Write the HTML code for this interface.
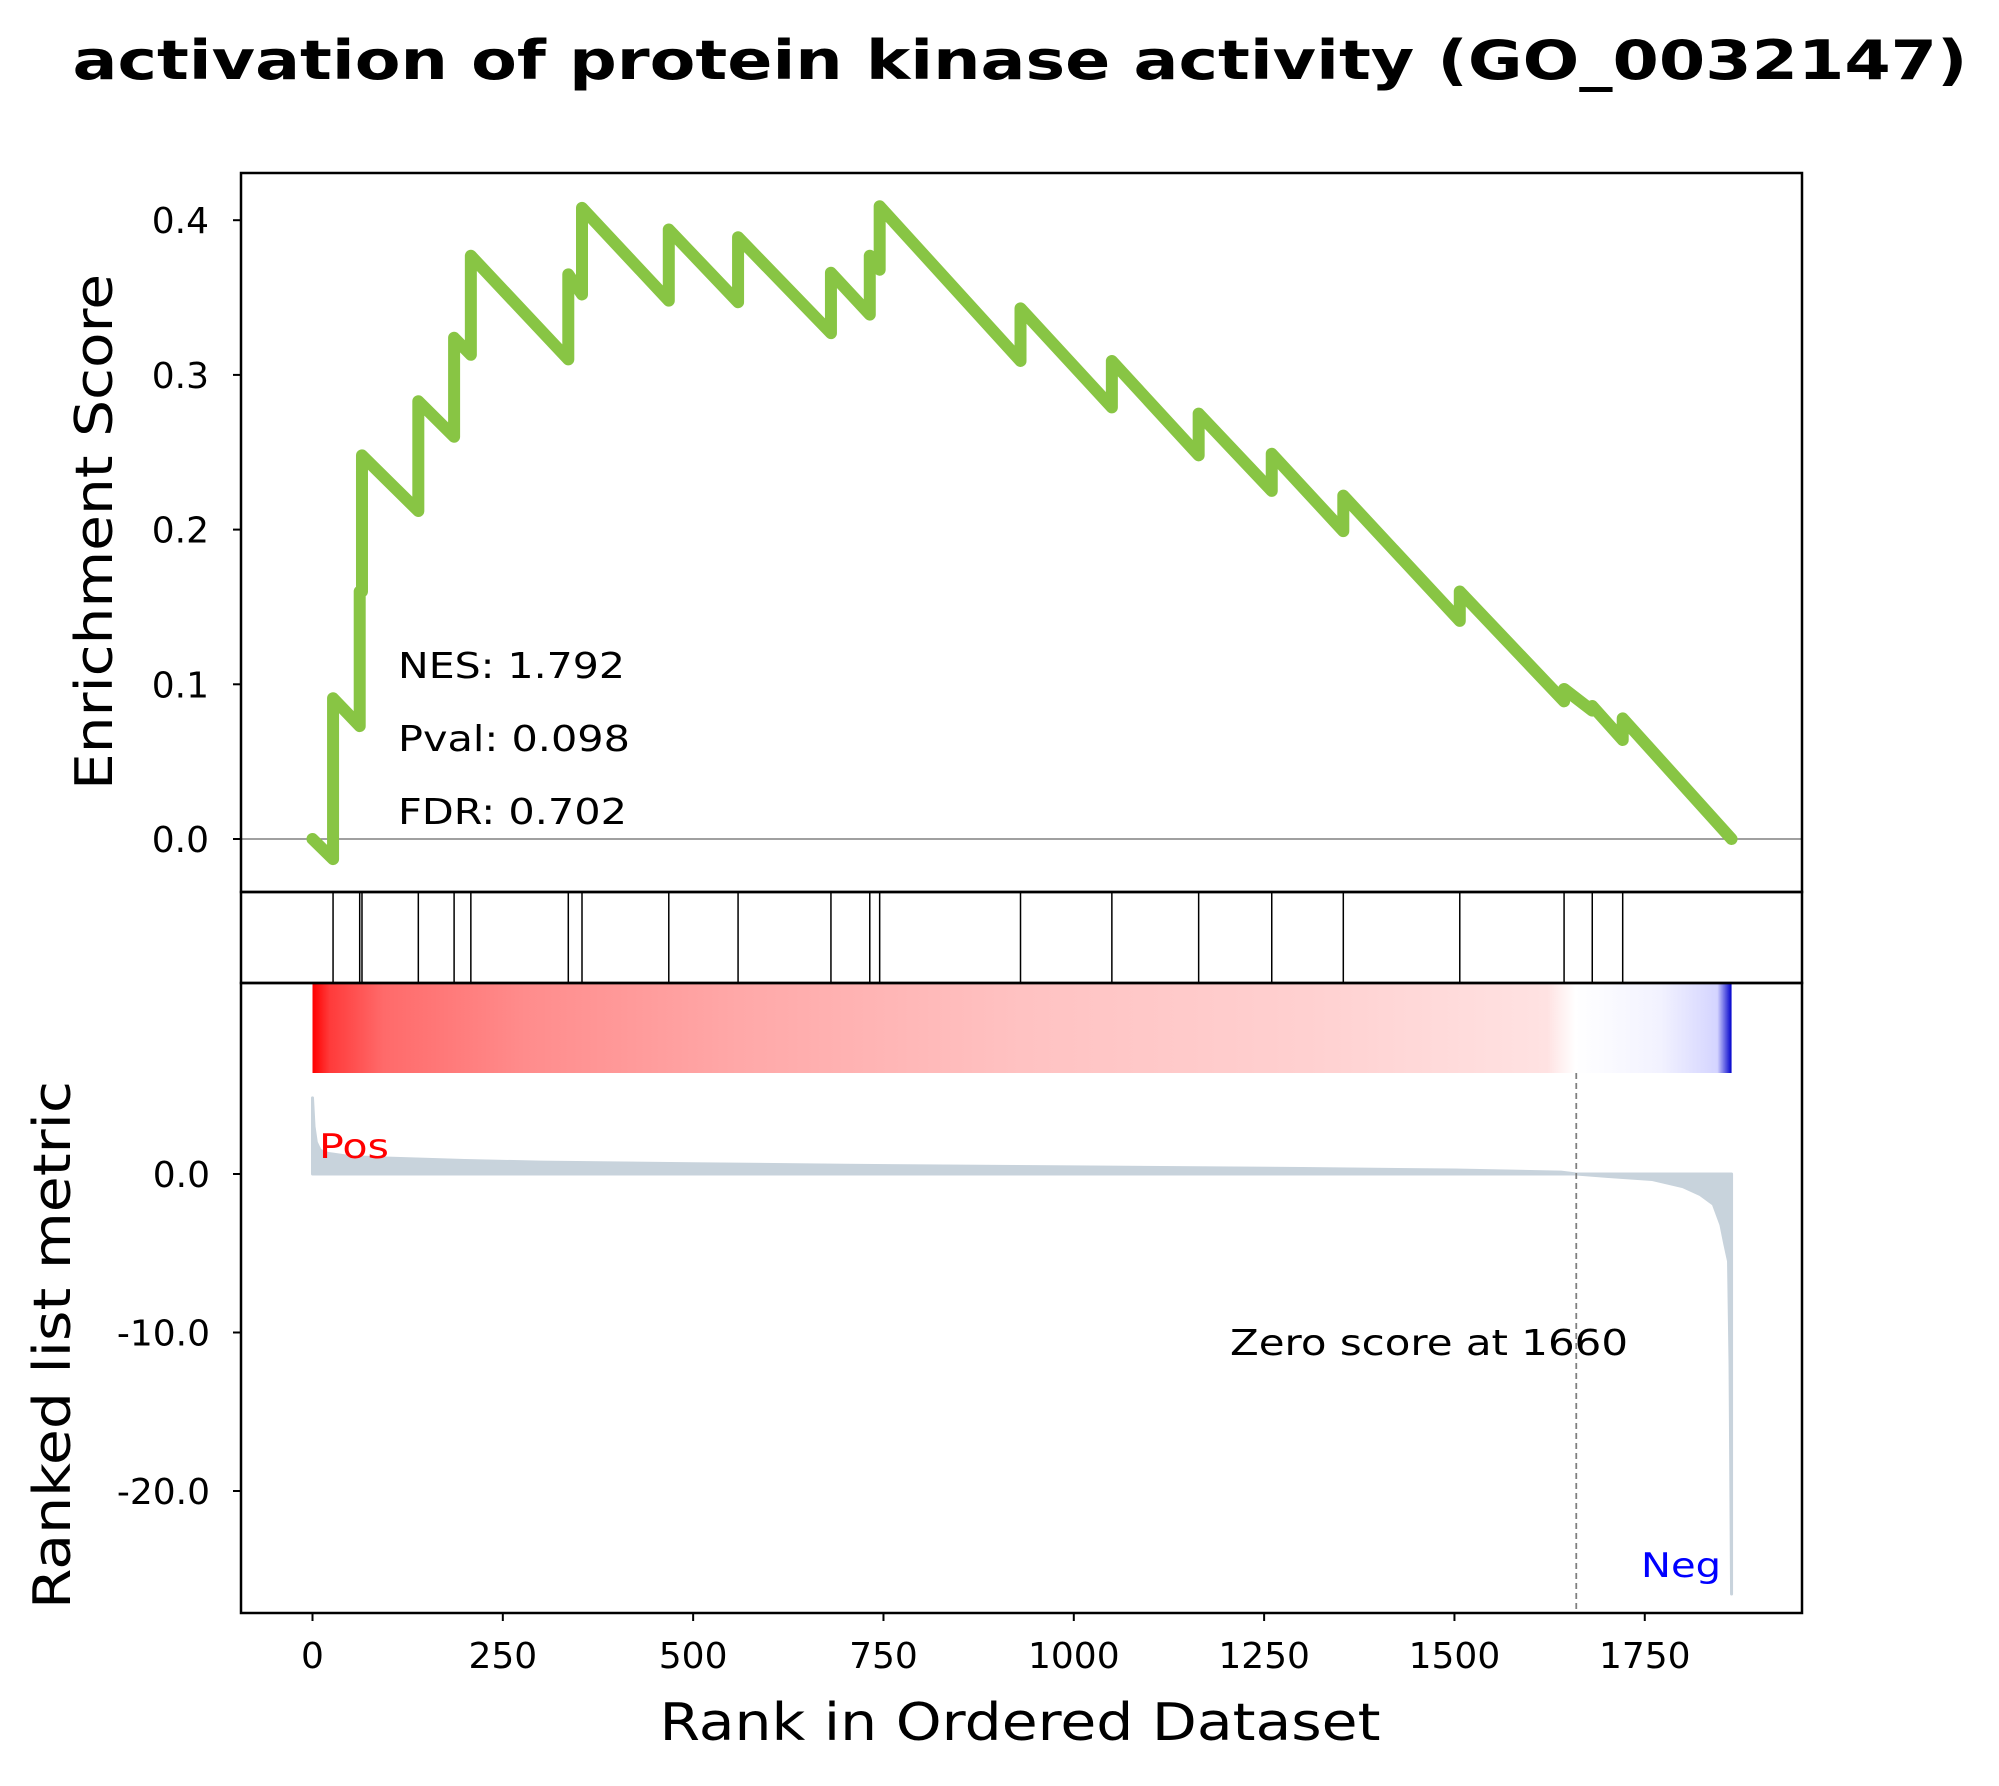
<!DOCTYPE html>
<html><head><meta charset="utf-8"><style>
html,body{margin:0;padding:0;background:#fff;}
svg{display:block;font-family:"DejaVu Sans","Liberation Sans",sans-serif;}
</style></head><body>
<svg id="chart" xmlns="http://www.w3.org/2000/svg" width="1999" height="1786" viewBox="0 0 1999 1786">
<defs>
<linearGradient id="heat" x1="0" x2="1" y1="0" y2="0">
<stop offset="0" stop-color="#ff0000"/>
<stop offset="0.012" stop-color="#ff3a3a"/>
<stop offset="0.05" stop-color="#ff6a6a"/>
<stop offset="0.15" stop-color="#ff8c8c"/>
<stop offset="0.3" stop-color="#ffa8a8"/>
<stop offset="0.5" stop-color="#ffc2c2"/>
<stop offset="0.7" stop-color="#ffd0d0"/>
<stop offset="0.87" stop-color="#ffe2e2"/>
<stop offset="0.89" stop-color="#ffffff"/>
<stop offset="0.95" stop-color="#f2f2ff"/>
<stop offset="0.99" stop-color="#d4d4ff"/>
<stop offset="1" stop-color="#0000cc"/>
</linearGradient>
</defs>
<text x="1020" y="79" text-anchor="middle" font-size="54" font-weight="bold" textLength="1895" lengthAdjust="spacingAndGlyphs">activation of protein kinase activity (GO_0032147)</text>
<g id="es-panel"></g>
<g id="hit-panel"></g>
<g id="rank-panel"></g>
<rect x="241" y="173" width="1561" height="719" fill="none" stroke="#000" stroke-width="2.5"/>
<rect x="241" y="892" width="1561" height="91" fill="none" stroke="#000" stroke-width="2.5"/>
<rect x="241" y="983" width="1561" height="630" fill="none" stroke="#000" stroke-width="2.5"/>
<text transform="translate(112,532) rotate(-90)" text-anchor="middle" font-size="52" textLength="516" lengthAdjust="spacingAndGlyphs">Enrichment Score</text>
<text transform="translate(70,1345) rotate(-90)" text-anchor="middle" font-size="52" textLength="528" lengthAdjust="spacingAndGlyphs">Ranked list metric</text>
<text x="1020" y="1740" text-anchor="middle" font-size="52" textLength="721" lengthAdjust="spacingAndGlyphs">Rank in Ordered Dataset</text>
<text x="398" y="678" font-size="36" textLength="227" lengthAdjust="spacingAndGlyphs">NES: 1.792</text>
<text x="398" y="751" font-size="36" textLength="232" lengthAdjust="spacingAndGlyphs">Pval: 0.098</text>
<text x="398" y="824" font-size="36" textLength="229" lengthAdjust="spacingAndGlyphs">FDR: 0.702</text>
<text x="1230" y="1355" font-size="36" textLength="398" lengthAdjust="spacingAndGlyphs">Zero score at 1660</text>
<text x="319" y="1158" font-size="34" fill="#ff0000" textLength="70" lengthAdjust="spacingAndGlyphs">Pos</text>
<text x="1641" y="1577" font-size="34" fill="#0000ff" textLength="80" lengthAdjust="spacingAndGlyphs">Neg</text>
</svg>
<script>
const N = 1865;
const hitRanks = [27,62,65,139,186,208,336,354,468,559,681,732,745,930,1050,1164,1260,1354,1507,1644,1681,1721];
const esBefore = [-0.013,0.073,0.16,0.212,0.26,0.313,0.31,0.352,0.348,0.347,0.327,0.339,0.368,0.309,0.279,0.248,0.225,0.199,0.141,0.089,0.083,0.064];
const esAfter  = [0.091,0.16,0.248,0.283,0.324,0.377,0.365,0.408,0.394,0.389,0.366,0.377,0.409,0.343,0.309,0.275,0.249,0.222,0.16,0.097,0.086,0.078];
const esTicks = [0.0,0.1,0.2,0.3,0.4];
const metricRanks = [0,2,5,10,20,50,100,200,300,500,700,1000,1300,1500,1640,1660,1700,1760,1800,1823,1840,1850,1855,1860,1862,1864];
const metricValues = [4.8,3.0,2.0,1.5,1.3,1.1,1.0,0.85,0.75,0.65,0.55,0.45,0.35,0.25,0.12,0.0,-0.15,-0.35,-0.8,-1.3,-1.9,-3.2,-4.4,-5.5,-12,-26.5];
const metricTicks = [0,-10,-20];
const xTicks = [0,250,500,750,1000,1250,1500,1750];
const zeroRank = 1660;

const NS = 'http://www.w3.org/2000/svg';
const X = r => 312.5 + r * 0.7613;
const YES = v => 839 - v * 1547;
const YM = v => 1174 - v * 15.85;
function mk(tag, attrs, parent, txt) {
  const e = document.createElementNS(NS, tag);
  for (const k in attrs) e.setAttribute(k, attrs[k]);
  if (txt !== undefined) e.textContent = txt;
  parent.appendChild(e);
  return e;
}
const es = document.getElementById('es-panel');
const hp = document.getElementById('hit-panel');
const rp = document.getElementById('rank-panel');

const zl = mk('line', {x1:241, x2:1802, y1:YES(0), y2:YES(0), stroke:'#808080', 'stroke-width':1.5}, es);



let pts = [[X(0), YES(0)]];
for (let i = 0; i < hitRanks.length; i++) {
  pts.push([X(hitRanks[i]), YES(esBefore[i])]);
  pts.push([X(hitRanks[i]), YES(esAfter[i])]);
}
pts.push([X(N - 1), YES(0)]);
const curve = mk('polyline', {points: pts.map(p => p.join(',')).join(' '), fill:'none', stroke:'#88c544', 'stroke-width':12, 'stroke-linejoin':'round', 'stroke-linecap':'round'}, es);



esTicks.forEach(v => {
  const y = YES(v);
  const t = mk('line', {x1:233, x2:241, y1:y, y2:y, stroke:'#000', 'stroke-width':2}, es);
  
  
  const l = mk('text', {x:209, y:y + 13, 'text-anchor':'end', 'font-size':36}, es, v.toFixed(1));
  
  
});

hitRanks.forEach(r => {
  const h = mk('line', {x1:X(r), x2:X(r), y1:892, y2:983, stroke:'#000', 'stroke-width':1.5}, hp);
  
  
});

const hb = mk('rect', {x:X(0), y:983, width:X(N - 1) - X(0), height:90, fill:'url(#heat)'}, rp);



let d = 'M' + X(metricRanks[0]) + ',' + YM(0);
metricRanks.forEach((r, i) => { d += ' L' + X(r) + ',' + YM(metricValues[i]); });
d += ' L' + X(metricRanks[metricRanks.length - 1]) + ',' + YM(0) + ' Z';
const mf = mk('path', {d: d, fill:'#c8d3dc', stroke:'#c8d3dc', 'stroke-width':3, 'stroke-linejoin':'round'}, rp);



const dz = mk('line', {x1:X(zeroRank), x2:X(zeroRank), y1:1073, y2:1613, stroke:'#808080', 'stroke-width':1.8, 'stroke-dasharray':'6,4'}, rp);



metricTicks.forEach(v => {
  const y = YM(v);
  const t = mk('line', {x1:233, x2:241, y1:y, y2:y, stroke:'#000', 'stroke-width':2}, rp);
  
  
  const l = mk('text', {x:210, y:y + 13, 'text-anchor':'end', 'font-size':36}, rp, v.toFixed(1));
  
  
});

xTicks.forEach(v => {
  const x = X(v);
  const t = mk('line', {x1:x, x2:x, y1:1613, y2:1621, stroke:'#000', 'stroke-width':2}, rp);
  
  
  const l = mk('text', {x:x, y:1668, 'text-anchor':'middle', 'font-size':36}, rp, String(v));
  
  
});
</script>
</body></html>
